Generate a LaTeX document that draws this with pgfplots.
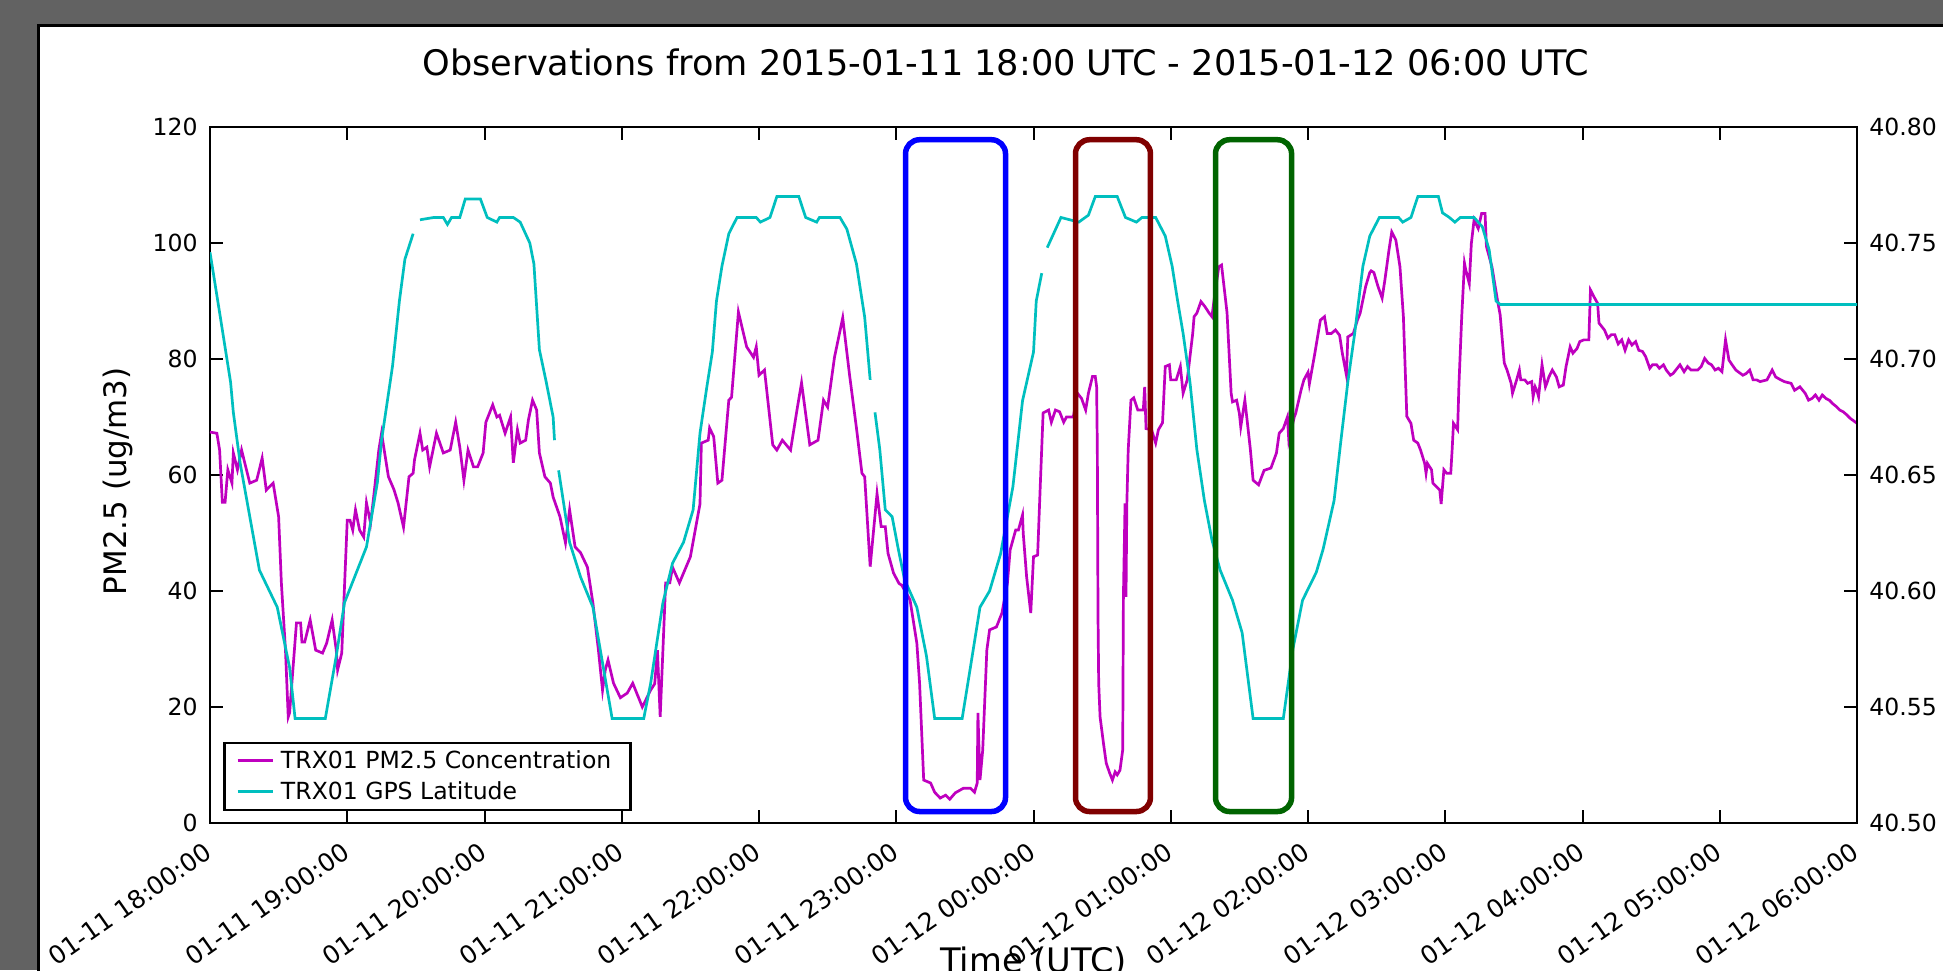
\documentclass[border=0pt]{standalone}
\usepackage{fontspec}
\setmainfont{DejaVu Sans}
\usepackage{pgfplots}
\pgfplotsset{compat=1.18}
\definecolor{bgray}{RGB}{98,98,98}
\definecolor{pmline}{HTML}{BF00BF}
\definecolor{latline}{HTML}{00BFBF}
\definecolor{boxblue}{HTML}{0000FF}
\definecolor{boxred}{HTML}{800000}
\definecolor{boxgreen}{HTML}{006400}

\pgfplotsset{
  twin/.style={
    at={(21mm,14.7mm)}, anchor=south west,
    scale only axis, width=164.7mm, height=69.6mm,
    xmin=0, xmax=12,
    tick align=inside,
    major tick length=1.3mm,
    every tick/.style={black, line width=0.2mm},
    axis line style={line width=0.25mm},
    ticklabel style={font=\fontsize{6.7}{8}\selectfont},
    /pgf/number format/assume math mode=true,
  }
}

\begin{document}
\begin{tikzpicture}
\useasboundingbox (0,0) rectangle (194.3mm,97mm);
\clip (0,0) rectangle (194.3mm,97mm);
\fill[bgray] (0,0) rectangle (194.3mm,97mm);
\filldraw[fill=white, draw=black, line width=0.33mm] (3.85mm,-5mm) rectangle (200mm,94.45mm);

\begin{axis}[twin,
  ymin=0, ymax=120,
  ytick={0,20,40,60,80,100,120}, ytick pos=left,
  xtick={0,1,2,3,4,5,6,7,8,9,10,11,12},
  xticklabels={01-11 18:00:00,01-11 19:00:00,01-11 20:00:00,01-11 21:00:00,01-11 22:00:00,01-11 23:00:00,01-12 00:00:00,01-12 01:00:00,01-12 02:00:00,01-12 03:00:00,01-12 04:00:00,01-12 05:00:00,01-12 06:00:00},
  xticklabel style={rotate=35, anchor=north east, inner sep=0.3mm, xshift=-1.2mm, yshift=-0.7mm, font=\fontsize{7.1}{8.5}\selectfont},
  title={Observations from 2015-01-11 18:00 UTC - 2015-01-12 06:00 UTC},
  title style={at={(axis description cs:0.4833,1.0934)}, anchor=center, yshift=-6pt, inner sep=0pt, font=\fontsize{10}{12}\selectfont},
  ylabel={PM2.5 (ug/m3)},
  ylabel style={at={(axis description cs:-0.0559,0.491)}, rotate=0, anchor=center, inner sep=0pt, font=\fontsize{8.8}{10}\selectfont},
  xlabel={Time (UTC)},
  xlabel style={at={(axis description cs:0.5,-0.1767)}, anchor=north, inner sep=0pt, font=\fontsize{9.6}{11}\selectfont},
]
\addplot[pmline, line width=0.27mm] coordinates {
(0.00,67.4) (0.05,67.2) (0.07,64.3) (0.09,55.3) (0.11,55.3) (0.13,60.9) (0.16,58.6) (0.17,63.8)
(0.20,60.9) (0.23,64.3) (0.29,58.6) (0.34,59.1) (0.38,62.9) (0.41,57.4) (0.46,58.6) (0.50,52.8)
(0.52,41.4) (0.55,29.8) (0.57,18.3) (0.58,19.0) (0.63,34.5) (0.66,34.5) (0.67,31.2) (0.69,31.2)
(0.73,35.0) (0.77,29.8) (0.82,29.3) (0.85,31.0) (0.89,35.0) (0.92,29.8) (0.93,26.4) (0.96,29.3)
(1.00,52.2) (1.02,52.2) (1.04,50.5) (1.06,54.0) (1.09,50.5) (1.12,49.3) (1.14,55.2) (1.17,51.7)
(1.19,55.7) (1.23,64.3) (1.25,67.2) (1.30,59.7) (1.34,57.5) (1.37,55.2) (1.41,51.0) (1.45,59.7)
(1.48,60.3) (1.49,62.6) (1.53,67.2) (1.55,64.3) (1.58,64.8) (1.60,61.4) (1.65,67.2) (1.70,63.8)
(1.75,64.3) (1.79,69.1) (1.82,64.8) (1.85,59.1) (1.88,64.3) (1.92,61.4) (1.95,61.4) (1.99,63.8)
(2.01,69.1) (2.06,72.1) (2.09,70.0) (2.11,70.3) (2.15,67.2) (2.19,70.0) (2.21,62.1) (2.24,67.8)
(2.26,65.5) (2.30,66.0) (2.32,69.5) (2.35,72.9) (2.38,71.2) (2.40,63.8) (2.44,59.7) (2.48,58.6)
(2.50,56.2) (2.55,52.8) (2.59,48.3) (2.62,54.0) (2.66,47.6) (2.70,46.6) (2.75,44.1) (2.79,37.9)
(2.83,29.8) (2.86,22.9) (2.88,26.4) (2.90,28.1) (2.94,24.1) (2.99,21.6) (3.04,22.4) (3.08,24.1)
(3.15,20.0) (3.21,22.9) (3.24,24.0) (3.26,29.8) (3.28,18.3) (3.32,41.4) (3.35,41.4) (3.37,44.1)
(3.42,41.4) (3.50,45.9) (3.57,55.0) (3.58,65.5) (3.63,66.0) (3.64,68.1) (3.67,66.6) (3.70,58.6)
(3.73,59.1) (3.78,72.9) (3.80,73.4) (3.85,88.1) (3.91,82.1) (3.96,80.3) (3.98,82.1) (4.00,77.2)
(4.04,78.1) (4.10,65.2) (4.13,64.3) (4.17,66.0) (4.23,64.3) (4.28,71.7) (4.31,75.9) (4.37,65.2)
(4.43,66.0) (4.47,72.9) (4.50,71.7) (4.55,80.3) (4.61,87.1) (4.66,77.2) (4.71,68.1) (4.75,60.3)
(4.77,59.7) (4.81,44.2) (4.86,56.8) (4.89,51.1) (4.92,51.1) (4.94,46.5) (4.98,43.1) (5.02,41.3)
(5.04,41.0) (5.10,38.5) (5.15,31.0) (5.17,24.1) (5.20,7.4) (5.25,6.9) (5.28,5.3) (5.32,4.3)
(5.36,4.8) (5.39,4.1) (5.43,5.2) (5.49,6.0) (5.54,6.0) (5.57,5.3) (5.59,6.9) (5.595,19.0)
(5.61,7.4) (5.63,12.6) (5.66,29.8) (5.68,33.3) (5.73,33.8) (5.77,36.2) (5.81,41.4) (5.83,47.1)
(5.87,50.5) (5.89,50.5) (5.92,53.1) (5.925,50.0) (5.95,42.4) (5.98,36.2) (6.00,45.9) (6.03,46.2)
(6.05,58.6) (6.07,70.7) (6.11,71.2) (6.13,69.1) (6.16,71.2) (6.19,70.9) (6.22,69.1) (6.24,70.0)
(6.29,70.0) (6.32,74.1) (6.35,73.2) (6.38,71.2) (6.40,74.1) (6.43,77.0) (6.45,77.0) (6.46,75.2)
(6.465,64.3) (6.47,35.6) (6.475,24.1) (6.485,18.3) (6.51,13.7) (6.53,10.3) (6.555,8.6) (6.575,7.4)
(6.595,8.8) (6.61,8.3) (6.63,9.1) (6.65,12.6) (6.655,39.0) (6.667,55.1) (6.674,39.0) (6.68,55.0)
(6.69,64.3) (6.71,72.9) (6.73,73.3) (6.76,71.2) (6.80,71.2) (6.81,75.2) (6.82,68.0) (6.86,67.8)
(6.89,65.5) (6.91,67.8) (6.94,69.0) (6.96,78.7) (6.99,79.0) (7.00,76.4) (7.04,76.4) (7.07,78.7)
(7.09,74.1) (7.12,76.4) (7.16,84.4) (7.17,87.3) (7.19,87.9) (7.22,89.9) (7.25,89.0) (7.28,87.9)
(7.30,87.3) (7.32,91.0) (7.35,95.9) (7.37,96.2) (7.41,88.0) (7.44,74.1) (7.45,72.6) (7.48,72.9)
(7.50,70.6) (7.51,68.3) (7.54,72.9) (7.58,64.4) (7.60,59.1) (7.64,58.3) (7.68,60.8) (7.73,61.2)
(7.77,63.8) (7.79,67.2) (7.82,68.0) (7.85,70.0) (7.86,66.0) (7.90,70.0) (7.91,70.6) (7.95,74.7)
(7.97,76.4) (8.00,77.7) (8.01,75.7) (8.05,81.0) (8.09,86.7) (8.12,87.3) (8.14,84.4) (8.17,84.4)
(8.20,85.0) (8.23,84.1) (8.25,81.0) (8.28,77.2) (8.29,83.8) (8.33,84.4) (8.36,86.7) (8.38,87.9)
(8.42,92.5) (8.45,94.9) (8.46,95.2) (8.48,94.9) (8.51,92.5) (8.54,90.5) (8.56,93.6) (8.59,98.8)
(8.61,101.9) (8.64,100.5) (8.67,95.9) (8.695,87.3) (8.72,70.1) (8.75,68.9) (8.77,66.0) (8.80,65.5)
(8.82,64.3) (8.85,62.0) (8.86,60.3) (8.87,62.0) (8.90,60.9) (8.91,58.6) (8.935,58.0) (8.96,57.4)
(8.97,55.0) (8.99,60.9) (9.01,60.3) (9.04,60.3) (9.05,64.3) (9.06,68.9) (9.09,67.8) (9.10,75.8)
(9.12,87.3) (9.14,96.5) (9.15,95.3) (9.175,93.0) (9.19,99.9) (9.21,104.0) (9.24,102.5) (9.265,105.1)
(9.29,105.1) (9.30,99.4) (9.34,95.9) (9.38,90.2) (9.40,87.6) (9.43,79.3) (9.45,78.1) (9.48,75.8)
(9.49,74.1) (9.52,76.4) (9.54,78.1) (9.55,76.4) (9.58,76.4) (9.60,75.8) (9.63,76.1) (9.64,73.5)
(9.655,75.2) (9.67,74.4) (9.68,73.5) (9.705,79.0) (9.73,75.2) (9.74,75.8) (9.755,76.9) (9.78,78.1)
(9.81,76.9) (9.83,75.2) (9.86,75.5) (9.88,78.7) (9.91,82.1) (9.93,81.0) (9.96,81.8) (9.98,83.0)
(10.01,83.3) (10.046,83.3) (10.058,91.9) (10.084,90.7) (10.11,89.6) (10.12,86.2) (10.16,85.0) (10.185,83.6)
(10.21,84.2) (10.235,84.2) (10.26,82.6) (10.286,83.3) (10.31,81.5) (10.336,83.3) (10.36,82.4) (10.387,83.0)
(10.41,81.5) (10.437,81.3) (10.46,80.4) (10.49,78.4) (10.51,79.0) (10.54,79.0) (10.56,78.4) (10.59,79.0)
(10.61,78.1) (10.64,77.2) (10.66,77.5) (10.69,78.4) (10.71,79.0) (10.74,77.8) (10.765,78.7) (10.79,78.1)
(10.84,78.1) (10.865,78.7) (10.89,80.1) (10.916,79.3) (10.94,79.0) (10.966,78.1) (10.99,78.4) (11.016,77.8)
(11.042,83.3) (11.067,79.8) (11.09,79.0) (11.117,78.1) (11.168,77.2) (11.193,77.5) (11.218,78.1) (11.243,76.4)
(11.268,76.4) (11.294,76.1) (11.344,76.4) (11.382,78.1) (11.407,76.9) (11.445,76.4) (11.47,76.1) (11.52,75.8)
(11.545,74.6) (11.584,75.2) (11.622,74.1) (11.647,72.9) (11.672,73.2) (11.697,73.8) (11.723,72.9) (11.747,73.8)
(11.773,73.2) (11.798,72.9) (11.823,72.3) (11.849,71.8) (11.874,71.2) (11.899,70.9) (11.924,70.4) (11.949,69.8)
(12.00,68.9)
};
\end{axis}

\begin{axis}[twin,
  axis x line=none, axis y line*=right,
  ymin=40.5, ymax=40.8,
  ytick={40.5,40.55,40.6,40.65,40.7,40.75,40.8}, ytick pos=right,
  yticklabel style={/pgf/number format/.cd, fixed, fixed zerofill, precision=2},
  unbounded coords=jump,
  legend style={at={(0.0079,0.0172)}, anchor=south west, draw=black, line width=0.25mm,
    font=\fontsize{6.7}{8}\selectfont, inner xsep=1.2mm, inner ysep=0.35mm, row sep=0.2mm,
    nodes={text height=1.8mm, text depth=0.3mm, inner ysep=0.4mm},
    cells={anchor=west}},
  legend image code/.code={\draw[#1] (0mm,0mm) -- (3.5mm,0mm);},
]
\addlegendimage{pmline, line width=0.27mm}
\addlegendentry{TRX01 PM2.5 Concentration}
\addplot[latline, line width=0.27mm] coordinates {
(0.00,40.746) (0.07,40.720) (0.15,40.690) (0.17,40.677) (0.22,40.655) (0.29,40.632) (0.36,40.609) (0.49,40.593)
(0.58,40.567) (0.62,40.545) (0.84,40.545) (0.92,40.572) (0.98,40.595) (1.14,40.619) (1.22,40.647) (1.25,40.665)
(1.33,40.697) (1.38,40.725) (1.42,40.743) (1.48,40.754) (1.50,nan) (1.53,40.760) (1.63,40.761) (1.70,40.761)
(1.73,40.758) (1.76,40.761) (1.82,40.761) (1.86,40.769) (1.97,40.769) (2.02,40.761) (2.09,40.759) (2.11,40.761)
(2.21,40.761) (2.26,40.759) (2.33,40.750) (2.36,40.741) (2.40,40.704) (2.45,40.690) (2.50,40.675) (2.51,40.665)
(2.525,nan) (2.54,40.652) (2.62,40.621) (2.70,40.606) (2.79,40.593) (2.93,40.545) (3.16,40.545) (3.21,40.560)
(3.30,40.595) (3.37,40.612) (3.45,40.621) (3.52,40.635) (3.57,40.668) (3.62,40.688) (3.66,40.703) (3.69,40.725)
(3.73,40.740) (3.78,40.754) (3.84,40.761) (3.98,40.761) (4.01,40.759) (4.08,40.761) (4.13,40.770) (4.29,40.770)
(4.34,40.761) (4.42,40.759) (4.44,40.761) (4.59,40.761) (4.64,40.756) (4.71,40.741) (4.77,40.718) (4.81,40.691)
(4.83,nan) (4.845,40.677) (4.88,40.661) (4.92,40.635) (4.97,40.632) (5.015,40.618) (5.06,40.605) (5.15,40.593)
(5.22,40.572) (5.28,40.545) (5.48,40.545) (5.54,40.567) (5.61,40.593) (5.68,40.600) (5.76,40.616) (5.81,40.632)
(5.85,40.645) (5.92,40.682) (6.00,40.703) (6.02,40.725) (6.06,40.737) (6.08,nan) (6.10,40.748) (6.20,40.761)
(6.33,40.759) (6.40,40.762) (6.45,40.770) (6.61,40.770) (6.67,40.761) (6.75,40.759) (6.79,40.761) (6.89,40.761)
(6.96,40.753) (7.01,40.740) (7.05,40.725) (7.09,40.711) (7.14,40.690) (7.19,40.661) (7.245,40.639) (7.30,40.622)
(7.36,40.609) (7.45,40.596) (7.52,40.582) (7.60,40.545) (7.82,40.545) (7.89,40.575) (7.96,40.596) (8.06,40.608)
(8.11,40.618) (8.19,40.639) (8.24,40.665) (8.29,40.690) (8.34,40.711) (8.40,40.740) (8.45,40.753) (8.52,40.761)
(8.66,40.761) (8.69,40.759) (8.75,40.761) (8.80,40.770) (8.95,40.770) (8.98,40.763) (9.03,40.761) (9.07,40.759)
(9.11,40.761) (9.21,40.761) (9.27,40.757) (9.32,40.747) (9.37,40.725) (9.40,40.7235) (12.00,40.7235)
};
\addlegendentry{TRX01 GPS Latitude}
\draw[boxblue, line width=0.55mm, rounded corners=1.4mm] (rel axis cs:0.4223,0.0165) rectangle (rel axis cs:0.4830,0.9817);
\draw[boxred, line width=0.55mm, rounded corners=1.4mm] (rel axis cs:0.5255,0.0165) rectangle (rel axis cs:0.5710,0.9817);
\draw[boxgreen, line width=0.55mm, rounded corners=1.4mm] (rel axis cs:0.6105,0.0165) rectangle (rel axis cs:0.6567,0.9817);
\end{axis}
\end{tikzpicture}
\end{document}
